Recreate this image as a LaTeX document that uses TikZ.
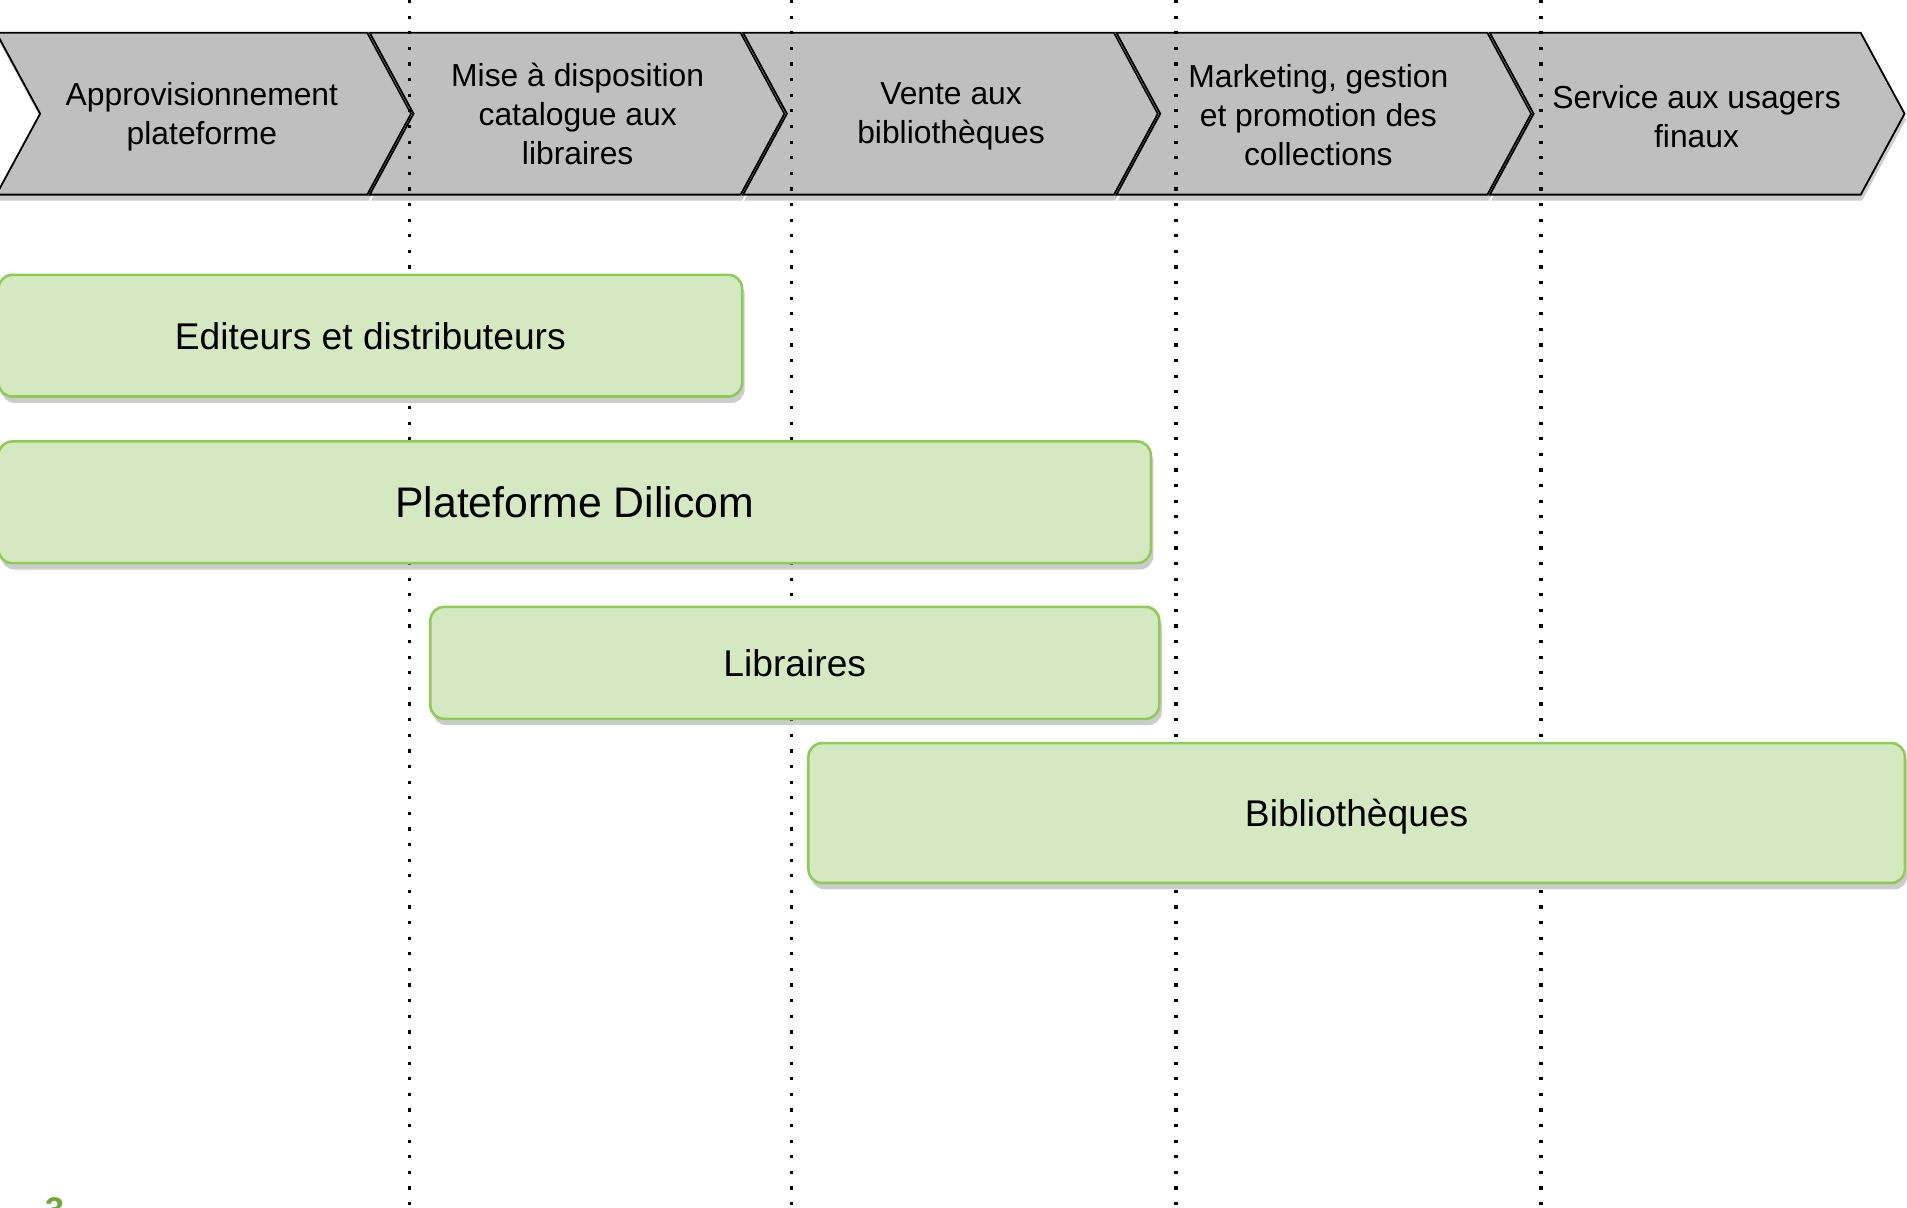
\documentclass[tikz,border=0pt]{standalone}
\usepackage{fontspec}
\setmainfont{Liberation Sans}
\usetikzlibrary{shadows}
\definecolor{chevgray}{HTML}{BFBFBF}
\definecolor{boxgreen}{HTML}{D4E8C2}
\definecolor{boxline}{HTML}{8FCC55}
\definecolor{numgreen}{HTML}{6EA83A}
\begin{document}
\begin{tikzpicture}[x=0.01cm,y=-0.01cm,line width=0.6pt,
	chev/.style={fill=chevgray,draw=black,line width=0.42pt,line join=miter,drop shadow={shadow xshift=0.3pt,shadow yshift=-1.4pt,opacity=0.4}},
	chevtext/.style={align=center,inner sep=0pt,font=\fontsize{7.44}{9.1}\selectfont},
	grid/.style={line width=0.75pt,dash pattern=on 0.75pt off 2.9pt},
	actor/.style={draw=boxline,fill=boxgreen,rounded corners=3.2pt,line width=0.6pt,inner sep=0pt,text depth=0pt,font=\fontsize{8.7}{10.4}\selectfont,drop shadow={shadow xshift=0.6pt,shadow yshift=-1.5pt,opacity=0.4}}]
				\useasboundingbox (0,0) rectangle (1568,993);
				\draw[chev] (-3,27)--(302,27)--(338,93.5)--(302,160)--(-3,160)--(33,93.5)--cycle;
				\draw[chev] (304,27)--(609,27)--(645,93.5)--(609,160)--(304,160)--(340,93.5)--cycle;
				\draw[chev] (611,27)--(916,27)--(952,93.5)--(916,160)--(611,160)--(647,93.5)--cycle;
				\draw[chev] (918,27)--(1223,27)--(1259,93.5)--(1223,160)--(918,160)--(954,93.5)--cycle;
				\draw[chev] (1225,27)--(1530,27)--(1566,93.5)--(1530,160)--(1225,160)--(1261,93.5)--cycle;
				\node[chevtext] (appro) at (166,96) {Approvisionnement\\plateforme};
				\node[chevtext] (mise) at (475,93.5) {Mise à disposition\\catalogue aux\\libraires};
				\node[chevtext] (vente) at (782,96) {Vente aux\\bibliothèques};
				\node[chevtext] (marketing) at (1084,94.5) {Marketing, gestion\\et promotion des\\collections};
				\node[chevtext] (service) at (1395,96) {Service aux usagers\\finaux};
				\draw[grid] (337,0)--(337,993);
				\draw[grid] (651,0)--(651,993);
				\draw[grid] (967,0)--(967,993);
				\draw[grid] (1267,0)--(1267,993);
				\node[actor,minimum width=6.11cm,minimum height=1cm] (editeurs) at (304.5,276) {Editeurs et distributeurs};
				\node[actor,minimum width=9.47cm,minimum height=1cm,font=\fontsize{10}{12}\selectfont] (dilicom) at (472.5,413) {Plateforme Dilicom};
				\node[actor,minimum width=5.99cm,minimum height=0.92cm] (libraires) at (653.5,545) {Libraires};
				\node[actor,minimum width=9.01cm,minimum height=1.15cm] (biblio) at (1115.5,668.5) {Bibliothèques};
				\node[anchor=base west,inner sep=0pt,text=numgreen,font=\fontsize{8}{9}\selectfont\bfseries] (pagenum) at (36,1004) {3};
			\end{tikzpicture}
\end{document}
